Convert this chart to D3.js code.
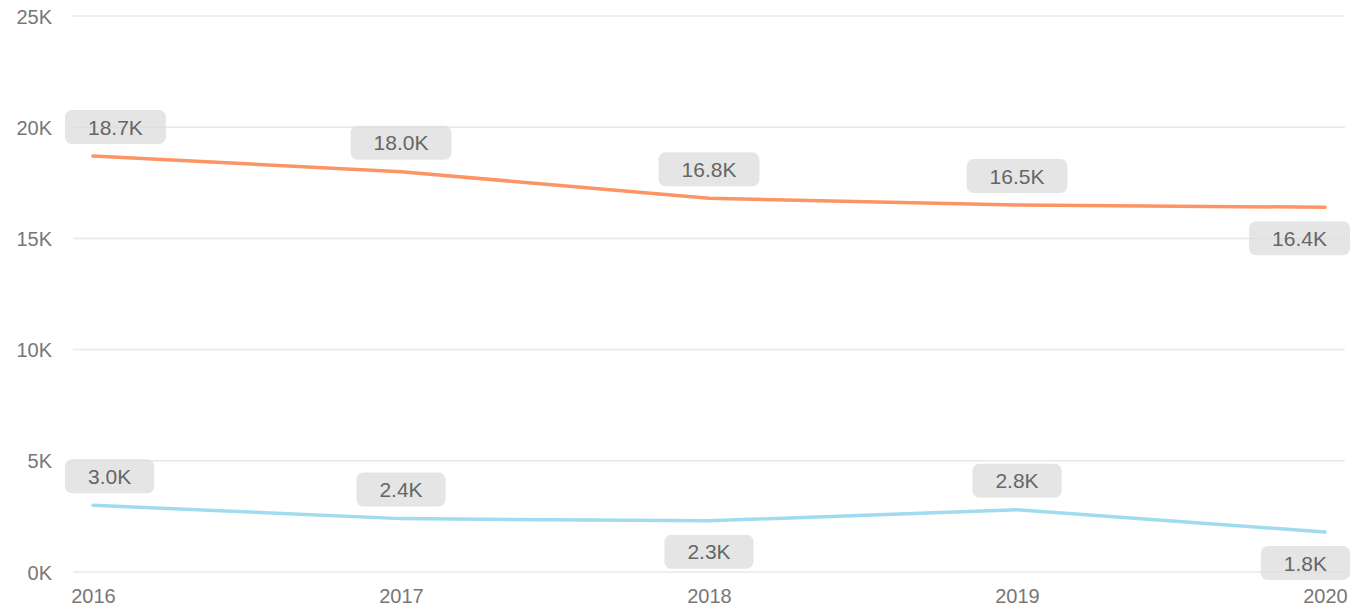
<!DOCTYPE html>
<html>
<head>
<meta charset="utf-8">
<script src="https://cdn.jsdelivr.net/npm/d3@7"></script>
<style>
  body { margin: 0; background: #fff; }
  svg { display: block; font-family: "Liberation Sans", "Roboto", sans-serif; }
</style>
</head>
<body>
<div id="chart"></div>
<script>
// data (thousands)
var years = ["2016", "2017", "2018", "2019", "2020"];
var seriesA = [18.7, 18.0, 16.8, 16.5, 16.4];
var seriesB = [3.0, 2.4, 2.3, 2.8, 1.8];
var yTicks = [0, 5, 10, 15, 20, 25];
// where each data label sits relative to its point
var sideA = ["above", "above", "above", "above", "below"];
var sideB = ["above", "above", "below", "above", "below"];

var width = 1352, height = 612;

var svg = d3.select("#chart")
    .append("svg")
    .attr("width", width)
    .attr("height", height);

var x = d3.scalePoint()
    .domain(years)
    .range([93, 1325]);

var y = d3.scaleLinear()
    .domain([0, 25])
    .range([572, 16]);

// gridlines
svg.append("g")
    .selectAll("line")
    .data(yTicks)
    .enter()
    .append("line")
    .attr("x1", 73)
    .attr("x2", 1345)
    .attr("y1", d => y(d))
    .attr("y2", d => y(d))
    .attr("stroke", "#e8e8e8")
    .attr("stroke-width", 1.5);

// y axis labels
var yAxis = svg.append("g")
    .attr("transform", "translate(52,0)")
    .call(d3.axisLeft(y).tickValues(yTicks).tickSize(0).tickPadding(0).tickFormat(d => d + "K"));
yAxis.select(".domain").remove();
yAxis.selectAll("text")
    .attr("fill", "#777")
    .style("font-size", "20px")
    .attr("dy", "0.35em");

// x axis labels
var xAxis = svg.append("g")
    .attr("transform", "translate(0,583)")
    .call(d3.axisBottom(x).tickSize(0).tickPadding(0));
xAxis.select(".domain").remove();
xAxis.selectAll("text")
    .attr("fill", "#777")
    .style("font-size", "20px")
    .attr("dy", "1em");

var line = d3.line()
    .x((d, i) => x(years[i]))
    .y(d => y(d));

function drawSeries(values, sides, color) {
    svg.append("path")
        .datum(values)
        .attr("fill", "none")
        .attr("stroke", color)
        .attr("stroke-width", 3.5)
        .attr("stroke-linecap", "round")
        .attr("stroke-linejoin", "round")
        .attr("d", line);

    var labels = svg.append("g")
        .selectAll("g")
        .data(values)
        .enter()
        .append("g");

    labels.each(function (d, i) {
        var g = d3.select(this);
        var t = g.append("text")
            .text(d.toFixed(1) + "K")
            .attr("fill", "#666")
            .style("font-size", "21px")
            .attr("text-anchor", "middle")
            .attr("dy", "0.36em");
        var tw = t.node().getComputedTextLength();
        var bw = tw + 46, bh = 34;
        var cx = x(years[i]);
        var cy = y(d) + (sides[i] == "above" ? -29 : 31);
        // keep boxes inside the plot
        cx = Math.max(65 + bw / 2, Math.min(1350 - bw / 2, cx));
        g.insert("rect", "text")
            .attr("x", cx - bw / 2)
            .attr("y", cy - bh / 2)
            .attr("width", bw)
            .attr("height", bh)
            .attr("rx", 7)
            .attr("fill", "#dcdcdc")
            .attr("fill-opacity", 0.75);
        t.attr("x", cx).attr("y", cy);
    });
}

drawSeries(seriesA, sideA, "#fd9464");
drawSeries(seriesB, sideB, "#9fdcef");
</script>
</body>
</html>
